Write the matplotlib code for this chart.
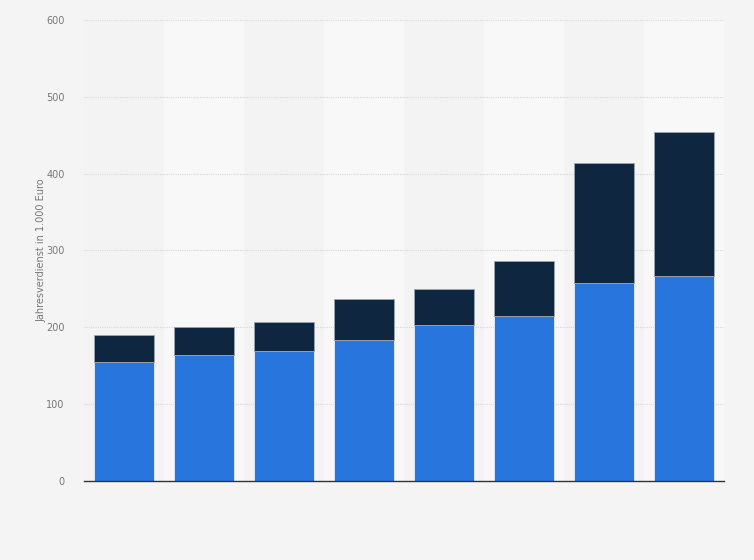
import matplotlib.pyplot as plt
import numpy as np

categories = ['1', '2', '3', '4', '5', '6', '7', '8']
blue_vals = [155, 164, 169, 183, 203, 215, 258, 267]
dark_vals = [35, 36, 38, 54, 47, 71, 156, 187]
yticks = [0, 100, 200, 300, 400, 500, 600]

fig = plt.figure(figsize=(7.54, 5.6), dpi=100)
fig.patch.set_facecolor('#f4f4f4')
ax = fig.add_axes([84 / 754, 79 / 560, 640 / 754, 461 / 560])
ax.set_facecolor('#f3f3f3')

x = np.arange(len(categories))
# alternating column bands
for i in x:
    if i % 2 == 1:
        ax.axvspan(i - 0.5, i + 0.5, color='#f8f8f8', zorder=0, lw=0)

ax.bar(x, blue_vals, width=0.74, color='#2876dd', edgecolor='#e8eef8', linewidth=0.6, zorder=3)
ax.bar(x, dark_vals, width=0.74, bottom=blue_vals, color='#0f2640', edgecolor='#9aa4b0', linewidth=0.6, zorder=3)

ax.set_xlim(-0.5, len(categories) - 0.5)
ax.set_ylim(0, 600)
ax.set_yticks(yticks)
ax.set_yticklabels([str(v) for v in yticks], fontsize=7, color='#777777')
ax.set_xticks([])
ax.tick_params(axis='y', length=0, pad=14)
ax.yaxis.grid(True, color='#d8d8d8', linestyle=(0, (1, 1)), linewidth=0.8, zorder=1)
for side in ['top', 'right', 'left']:
    ax.spines[side].set_visible(False)
ax.spines['bottom'].set_color('#333333')
ax.spines['bottom'].set_linewidth(1.0)
ax.spines['bottom'].set_zorder(4)
ax.set_ylabel('Jahresverdienst in 1.000 Euro', fontsize=7, color='#777777', labelpad=0)

fig.savefig('out.png', dpi=100, facecolor=fig.get_facecolor())
